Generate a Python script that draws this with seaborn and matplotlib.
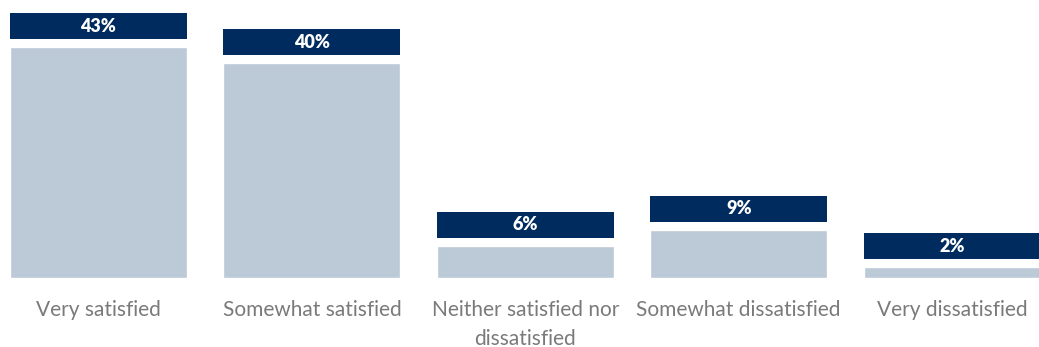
import matplotlib
matplotlib.use("Agg")
import matplotlib.pyplot as plt
import seaborn as sns
import pandas as pd

# data
categories = ["Very satisfied", "Somewhat satisfied", "Neither satisfied nor\ndissatisfied",
              "Somewhat dissatisfied", "Very dissatisfied"]
values = [43, 40, 6, 9, 2]
labels = ["43%", "40%", "6%", "9%", "2%"]

bar_color = "#BCC9D6"
navy = "#002B5E"
grey = "#7A7A7A"

sns.set_theme(style="white")
plt.rcParams["font.family"] = ["Lato", "DejaVu Sans"]

df = pd.DataFrame({"category": categories, "value": values})

fig = plt.figure(figsize=(10.39, 3.47), dpi=100)
ax = fig.add_axes([0, 69 / 347, 1, 278 / 347])

sns.barplot(data=df, x="category", y="value", color=bar_color, width=0.83,
            saturation=1, ax=ax)

# navy label boxes sitting above each bar
px_per_unit = 278 / 51.8
gap = 8 / px_per_unit
box_h = 26 / px_per_unit
box_bottoms = [v + gap for v in values]
ax.bar(range(len(values)), [box_h] * len(values), bottom=box_bottoms,
       width=0.83, color=navy, linewidth=0)
for i, (b, lab) in enumerate(zip(box_bottoms, labels)):
    ax.text(i, b + box_h / 2, lab, ha="center", va="center", color="white",
            fontsize=13, fontweight="heavy")

ax.set_xlim(-98.5 / 213.4, (1039 - 98.5) / 213.4)
ax.set_ylim(0, 51.8)
ax.set_xlabel("")
ax.set_ylabel("")
ax.set_yticks([])
for s in ax.spines.values():
    s.set_visible(False)
ax.tick_params(axis="x", length=0, pad=16, labelsize=15, labelcolor=grey)
for t in ax.get_xticklabels():
    t.set_linespacing(1.55)

fig.savefig("out.png", dpi=100)
